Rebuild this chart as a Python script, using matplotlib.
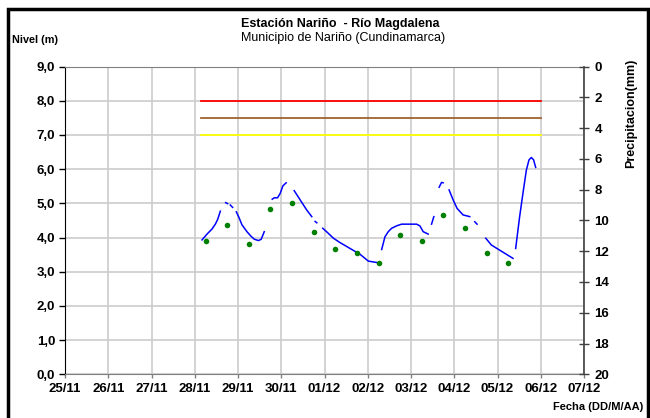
import numpy as np
import matplotlib
matplotlib.use("Agg")
import matplotlib.pyplot as plt
from matplotlib.patches import Rectangle

plt.rcParams['font.family'] = ['Liberation Sans', 'DejaVu Sans']

nan = float('nan')

# x axis: days since 25/11 00:00
date_labels = ["25/11", "26/11", "27/11", "28/11", "29/11", "30/11", "01/12",
               "02/12", "03/12", "04/12", "05/12", "06/12", "07/12"]

# continuous level record (gaps = NaN)
level_day = [3.169, 3.284, 3.400, 3.476, 3.530, 3.592, nan,
             3.715, 3.760, nan,
             3.822, 3.876, nan,
             3.961, 4.014, 4.092, 4.207, 4.299, 4.376, 4.475, 4.537, 4.607, nan,
             4.791, 4.837, 4.914, 4.976, 5.038, 5.114, nan,
             5.299, 5.437, 5.591, 5.706, nan,
             5.783, 5.822, nan,
             5.960, 6.090, 6.205, 6.360, 6.590, 6.821, 7.013, 7.206, 7.244, nan,
             7.322, 7.398, 7.474, 7.552, 7.667, 7.783, 7.975, 8.129, 8.205, 8.282, 8.397, nan,
             8.475, 8.528, nan,
             8.651, 8.706, 8.743, nan,
             8.881, 8.974, 9.066, 9.204, 9.359, nan,
             9.474, 9.528, nan,
             9.728, 9.859, 10.05, 10.358, nan,
             10.42, 10.512, 10.588, 10.667, 10.728, 10.782, 10.835, 10.882]
level_m = [3.93, 4.10, 4.25, 4.39, 4.53, 4.77, nan,
           5.02, 4.99, nan,
           4.95, 4.88, nan,
           4.75, 4.61, 4.37, 4.17, 4.04, 3.95, 3.91, 3.95, 4.17, nan,
           5.12, 5.16, 5.16, 5.29, 5.51, 5.60, nan,
           5.37, 5.10, 4.80, 4.61, nan,
           4.47, 4.43, nan,
           4.27, 4.12, 3.98, 3.85, 3.68, 3.51, 3.31, 3.27, 3.25, nan,
           3.65, 4.02, 4.17, 4.27, 4.34, 4.39, 4.39, 4.39, 4.34, 4.17, 4.10, nan,
           4.39, 4.61, nan,
           5.47, 5.61, 5.60, nan,
           5.39, 5.10, 4.85, 4.66, 4.61, nan,
           4.46, 4.39, nan,
           3.98, 3.78, 3.63, 3.39, nan,
           3.68, 4.61, 5.29, 5.97, 6.27, 6.34, 6.27, 6.05]

# manual readings (06:00 and 18:00)
reading_day = [3.25, 3.75, 4.25, 4.75, 5.25, 5.75, 6.25, 6.75, 7.25, 7.75,
               8.25, 8.75, 9.25, 9.75, 10.25]
reading_m = [3.91, 4.37, 3.80, 4.82, 5.02, 4.17, 3.67, 3.55, 3.26, 4.07,
             3.90, 4.66, 4.29, 3.56, 3.26]

# alert thresholds
threshold_levels = [8.0, 7.5, 7.0]
threshold_colors = ['#ff0000', '#a0632d', '#ffff00']
threshold_start = 3.15
threshold_end = 11.0

fig = plt.figure(figsize=(6.5, 4.18), dpi=100)
ax = fig.add_axes([65/650, 1 - 374.3/418, (584 - 65)/650, (374.3 - 66.5)/418])

ax.set_xlim(0, 12)
ax.set_ylim(0, 9)
ax.set_xticks(range(13))
ax.set_xticklabels(date_labels, fontweight='bold', fontsize=9.5)
ax.set_yticks(np.arange(0, 10, 1))
ax.set_yticklabels([f"{v:.1f}".replace('.', ',') for v in np.arange(0, 10, 1)],
                   fontweight='bold', fontsize=9.5)
ax.grid(True, color='#cccccc', linewidth=1.2)
ax.set_axisbelow(True)

for lv, c in zip(threshold_levels, threshold_colors):
    ax.plot([threshold_start, threshold_end], [lv, lv], color=c, lw=1.3, zorder=3)

ax.plot(level_day, level_m, color='#0000ff', lw=1.1, zorder=4)
ax.plot(reading_day, reading_m, 'o', color='#008000', markersize=4,
        markeredgewidth=0, zorder=5)

ax.spines['top'].set_color('#808080')
ax.spines['left'].set_color('black')
ax.spines['bottom'].set_color('#808080')
ax.spines['right'].set_visible(False)
ax.tick_params(axis='y', direction='out', length=4, width=1, color='black', pad=3)
ax.tick_params(axis='x', direction='out', length=3, width=1, color='#808080', pad=3)

ax2 = ax.twinx()
ax2.set_ylim(20, 0)
ax2.set_yticks(range(0, 21, 2))
ax2.set_yticklabels([str(v) for v in range(0, 21, 2)], fontweight='bold', fontsize=9.5)
ax2.spines['right'].set_color('#404040')
ax2.spines['right'].set_linewidth(1.2)
for s in ['top', 'left', 'bottom']:
    ax2.spines[s].set_visible(False)
ax2.tick_params(axis='y', direction='inout', length=7, width=1, color='#404040', pad=4)

fig.text(340/650, 1 - 24/418, "Estación Nariño  - Río Magdalena", ha='center', va='center',
         fontsize=9, fontweight='bold')
fig.text(343/650, 1 - 37.5/418, "Municipio de Nariño (Cundinamarca)", ha='center', va='center',
         fontsize=9)
fig.text(12/650, 1 - 40/418, "Nivel (m)", ha='left', va='center', fontsize=7.8,
         fontweight='bold')
fig.text(631/650, 1 - 113/418, "Precipitacion(mm)", ha='center', va='center',
         rotation=90, fontsize=9, fontweight='bold')
fig.text(643/650, 1 - 407/418, "Fecha (DD/M/AA)", ha='right', va='center', fontsize=8,
         fontweight='bold')

fig.patches.append(Rectangle((7.5/650, -0.05), (647.5 - 7.5)/650, 1.05 - 9.5/418,
                             transform=fig.transFigure, fill=False, edgecolor='black',
                             linewidth=2.5))

fig.savefig("out.png", dpi=100)
